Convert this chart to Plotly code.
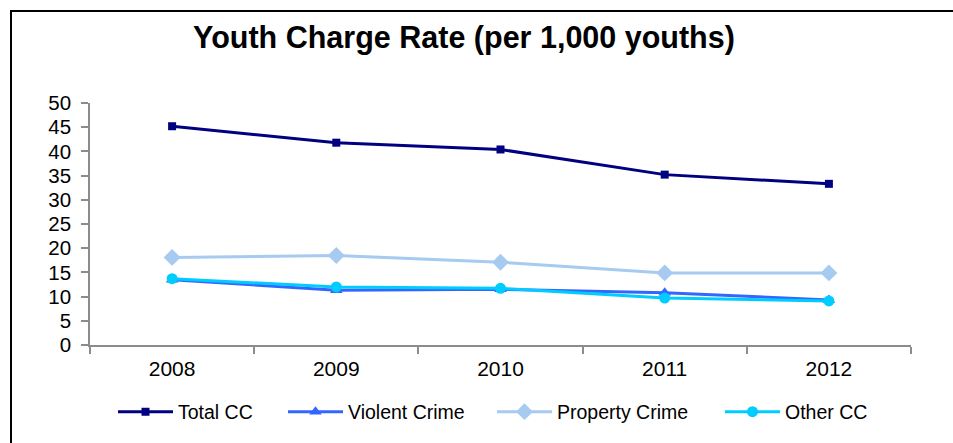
import plotly.graph_objects as go

# Youth charge rates per 1,000 youths
years = ["2008", "2009", "2010", "2011", "2012"]
total_cc = [45.2, 41.8, 40.4, 35.2, 33.3]
violent_crime = [13.5, 11.3, 11.5, 10.8, 9.3]
property_crime = [18.1, 18.5, 17.1, 14.9, 14.9]
other_cc = [13.7, 12.0, 11.7, 9.7, 9.1]

y_ticks = list(range(0, 55, 5))

W, H = 953, 443
L, R, T, B = 90, 42, 103, 98

series = [
    ("Total CC", total_cc, "#000080", "square", 8, "legend", 123),
    ("Violent Crime", violent_crime, "#3366FF", "triangle-up", 11, "legend2", 293),
    ("Property Crime", property_crime, "#A6CAF0", "diamond", 13, "legend3", 502),
    ("Other CC", other_cc, "#00CCFF", "circle", 11, "legend4", 730),
]

fig = go.Figure()
for name, vals, color, symbol, size, leg, _ in series:
    fig.add_trace(go.Scatter(
        x=years, y=vals, name=name, mode="lines+markers",
        line=dict(color=color, width=3),
        marker=dict(color=color, symbol=symbol, size=size, line=dict(width=0)),
        legend=leg,
    ))

font = "Liberation Sans, Arial, sans-serif"
legend_common = dict(
    orientation="h", xref="container", yref="container",
    yanchor="middle", xanchor="left", y=1 - 412 / H,
    font=dict(family=font, size=19.5, color="#000000"),
    bgcolor="rgba(0,0,0,0)", borderwidth=0, itemwidth=55,
)
legends = {}
for name, vals, color, symbol, size, leg, xpx in series:
    legends[leg] = dict(legend_common, x=(xpx - 10) / W)

fig.update_layout(
    width=W, height=H,
    margin=dict(l=L, r=R, t=T, b=B, pad=0),
    paper_bgcolor="#FFFFFF", plot_bgcolor="#FFFFFF",
    font=dict(family=font, color="#000000"),
    title=dict(
        text="<b>Youth Charge Rate (per 1,000 youths)</b>",
        x=464 / W, xanchor="center", xref="container",
        y=1 - 37 / H, yanchor="middle", yref="container",
        font=dict(family=font, size=30.5, color="#000000"),
    ),
    showlegend=True,
    xaxis=dict(
        type="category", range=[-0.5, 4.5], tickson="boundaries",
        showgrid=False, zeroline=False,
        showline=True, linecolor="#8C8C8C", linewidth=1.5,
        ticks="outside", ticklen=7, tickwidth=1.5, tickcolor="#8C8C8C",
        tickfont=dict(family=font, size=21, color="#000000"),
        ticklabelstandoff=4,
    ),
    yaxis=dict(
        range=[0, 50], tickvals=y_ticks, ticktext=[str(v) for v in y_ticks],
        showgrid=False, zeroline=False,
        showline=True, linecolor="#8C8C8C", linewidth=1.5,
        ticks="outside", ticklen=7, tickwidth=1.5, tickcolor="#8C8C8C",
        tickfont=dict(family=font, size=20.5, color="#000000"),
        ticklabelstandoff=6,
    ),
    **legends,
)

# Outer chart border
fig.add_shape(
    type="rect", xref="paper", yref="paper",
    x0=(11 - L) / (W - L - R), x1=(970 - L) / (W - L - R),
    y0=(H - B - 460) / (H - T - B), y1=(H - B - 11) / (H - T - B),
    line=dict(color="#000000", width=2), fillcolor="rgba(0,0,0,0)",
    layer="below",
)

fig.write_html("out.html")
